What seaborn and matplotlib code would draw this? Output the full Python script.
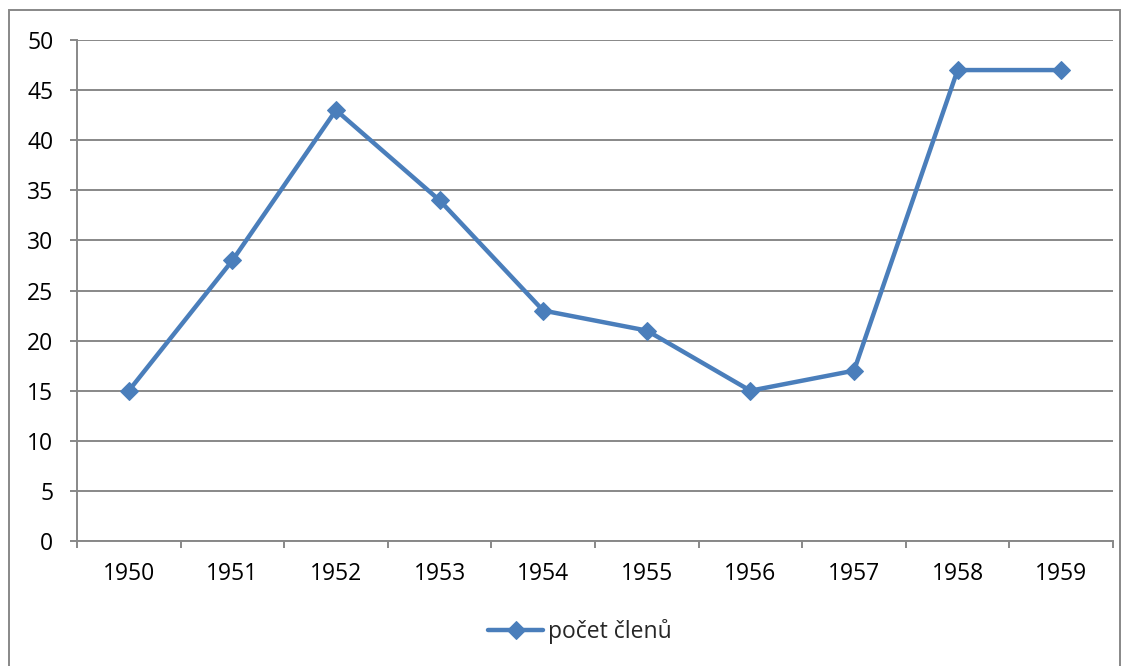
import matplotlib
matplotlib.use("Agg")
import matplotlib.pyplot as plt
import seaborn as sns
import pandas as pd
import numpy as np
from matplotlib.patches import Rectangle
from matplotlib.ticker import FixedLocator, MultipleLocator

years = ["1950", "1951", "1952", "1953", "1954", "1955", "1956", "1957", "1958", "1959"]
members = [15, 28, 43, 34, 23, 21, 15, 17, 47, 47]
series_name = "počet členů"

sns.set_theme(style="white")
plt.rcParams['font.family'] = ['Open Sans', 'DejaVu Sans']

df = pd.DataFrame({"pos": np.arange(len(years)), "rok": years, "val": members})

fig = plt.figure(figsize=(11.31, 6.66), dpi=100)
ax = fig.add_axes([77/1131, 1-541/666, (1113-77)/1131, (541-40)/666])

line_color = "#4A7EBB"
grid_color = "#888888"
fs = 16.5

sns.lineplot(data=df, x="pos", y="val", ax=ax, color=line_color, linewidth=3.2,
             marker="D", markersize=9.5, markeredgecolor=line_color,
             markerfacecolor=line_color, label=series_name, legend=False)

ax.set_xlim(-0.5, len(years) - 0.5)
ax.set_ylim(0, 50)
ax.yaxis.set_major_locator(MultipleLocator(5))
ax.set_xticks(np.arange(len(years)))
ax.set_xticklabels(years)
ax.xaxis.set_minor_locator(FixedLocator(np.arange(len(years) + 1) - 0.5))
ax.set_xlabel("")
ax.set_ylabel("")

ax.grid(axis="y", color=grid_color, linewidth=1.4)
ax.grid(axis="x", visible=False)
ax.set_axisbelow(True)
for s in ["top", "right"]:
    ax.spines[s].set_visible(False)
for s in ["left", "bottom"]:
    ax.spines[s].set_color(grid_color)
    ax.spines[s].set_linewidth(1.4)

ax.tick_params(axis="y", which="major", direction="out", length=5, width=1.4,
               color=grid_color, pad=12, labelsize=fs, labelcolor="black", left=True)
ax.tick_params(axis="x", which="major", length=0, pad=15, labelsize=fs, labelcolor="black")
ax.tick_params(axis="x", which="minor", direction="out", length=5, width=1.4,
               color=grid_color, bottom=True)

handles, labels = ax.get_legend_handles_labels()
leg = fig.legend(handles, labels, loc="center", bbox_to_anchor=(580/1131, 1-632/666),
                 frameon=False, fontsize=fs, handlelength=2.4, handletextpad=0.2)

fig.patches.append(Rectangle((9/1131, -0.01), (1120-9)/1131, 1-10/666 + 0.01,
                             transform=fig.transFigure, fill=False,
                             edgecolor=grid_color, linewidth=1.4))

fig.savefig("out.png", dpi=100)
